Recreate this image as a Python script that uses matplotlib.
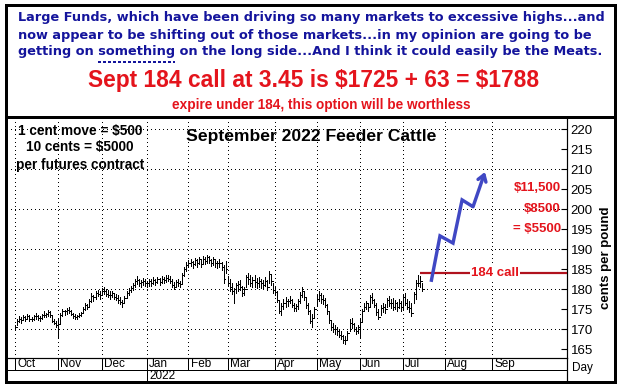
import numpy as np
import matplotlib
matplotlib.use("Agg")
import matplotlib.pyplot as plt
from matplotlib.patches import Rectangle
from matplotlib.lines import Line2D

# ---------------- data ----------------
months = ["Oct", "Nov", "Dec", "Jan", "Feb", "Mar", "Apr", "May", "Jun", "Jul", "Aug", "Sep"]
month_start = [0, 21, 42, 64, 84, 103, 126, 146, 167, 188, 208, 231]   # trading-day index

highs = [
    171.0,172.5,173.3,173.0,173.5,173.2,173.8,173.4,173.0,173.6,173.9,173.5,173.2,173.8,174.5,174.0,174.8,174.6,173.4,172.6,172.0,
    172.5,174.0,175.0,174.8,175.2,175.4,174.8,174.0,173.8,173.5,174.0,174.2,175.5,176.6,176.3,177.5,179.0,178.5,179.6,179.8,179.4,
    180.2,180.4,180.0,179.8,179.4,179.6,179.0,178.8,178.4,178.0,177.2,178.2,179.4,180.2,180.8,181.6,182.4,183.2,182.6,182.2,182.8,182.4,
    182.0,182.6,182.4,182.9,182.6,183.0,182.8,183.2,183.0,183.4,183.6,183.3,182.4,181.8,182.2,182.6,182.0,184.0,185.4,186.8,
    187.2,187.6,187.0,187.8,187.4,187.9,187.2,188.3,188.0,188.6,188.2,187.6,188.0,187.4,187.0,187.5,186.8,186.0,187.0,
    183.2,182.4,181.4,180.2,181.6,182.0,182.2,180.8,180.4,183.6,184.0,183.4,183.0,183.4,182.8,183.0,182.6,182.2,183.0,182.2,184.4,183.4,181.6,
    180.6,179.4,177.2,176.6,177.4,178.0,177.6,178.2,177.4,176.6,176.2,177.4,179.2,180.6,179.6,178.0,176.4,174.8,173.8,175.6,
    178.6,179.6,179.0,178.6,177.8,176.2,174.6,172.2,171.4,171.0,170.4,169.8,169.4,168.6,168.2,169.6,172.4,172.8,171.4,170.6,171.0,
    172.4,175.0,176.6,177.0,176.6,178.6,179.0,177.6,176.4,175.0,176.0,176.6,176.2,177.8,178.2,177.6,177.8,177.2,176.8,177.4,177.0,
    178.8,179.0,177.4,177.0,176.4,179.2,182.2,183.6,183.2,181.4,
]
lows = [
    169.8,171.0,171.8,171.6,172.2,172.0,172.4,172.1,171.9,172.3,172.6,172.3,172.0,172.6,172.9,173.0,173.2,173.1,171.8,171.2,170.6,
    168.0,171.5,173.2,173.6,173.8,174.0,173.4,172.8,172.5,172.6,173.0,173.2,174.0,174.8,175.0,175.8,176.8,177.0,177.4,178.2,177.6,
    178.6,178.8,178.3,178.0,177.6,178.0,177.4,177.2,176.6,176.2,175.6,176.4,177.8,178.6,179.2,179.8,180.4,181.2,180.8,180.6,181.0,180.8,
    180.4,180.8,180.8,181.2,181.0,181.4,181.0,181.6,181.5,181.8,182.0,181.6,180.6,180.0,180.4,180.8,180.4,181.6,183.2,184.6,
    185.4,185.8,185.2,186.0,185.6,186.2,185.5,186.4,186.2,186.6,186.4,185.8,186.0,185.6,185.2,185.6,184.8,181.6,184.0,
    180.8,179.6,178.8,176.5,179.0,179.4,179.8,178.2,178.4,180.6,181.2,180.8,180.4,180.6,180.2,180.4,180.2,180.0,180.8,179.8,181.6,181.0,179.0,
    178.4,176.8,174.0,173.4,175.0,175.6,175.8,176.4,175.6,174.6,174.6,175.0,176.6,178.0,177.2,175.2,173.8,171.4,170.4,172.8,
    176.0,177.0,176.6,176.2,175.4,173.8,171.6,169.8,169.2,168.8,168.6,168.0,167.4,166.6,166.2,167.6,169.4,170.2,169.4,168.8,169.0,
    168.0,172.0,174.4,175.0,174.6,175.8,176.6,175.4,173.6,172.4,173.4,174.2,174.0,175.4,175.8,175.2,174.8,175.0,174.6,175.2,174.4,
    175.0,176.0,175.0,174.2,173.2,176.4,177.6,180.8,180.6,179.4,
]
closes = [
    170.4,172.0,172.5,172.2,173.0,172.5,173.2,172.6,172.4,173.2,173.2,172.8,172.8,173.4,173.4,173.8,174.2,173.4,172.0,171.6,171.0,
    171.2,173.6,174.4,174.4,174.8,174.4,173.8,173.2,173.0,173.3,173.6,174.0,175.0,176.0,175.6,177.0,178.2,178.0,179.0,178.8,178.4,
    179.6,179.6,178.8,178.6,178.4,179.0,178.0,177.8,177.2,176.8,176.6,177.8,179.0,179.8,180.2,181.0,182.0,182.2,181.4,181.8,182.0,181.6,
    181.4,182.0,181.6,182.2,181.8,182.4,181.8,182.6,182.2,182.8,182.6,182.0,181.0,180.6,181.8,181.6,181.2,183.6,185.0,186.0,
    186.4,186.8,186.2,187.2,186.4,187.4,186.2,187.6,187.0,188.0,187.2,186.6,187.4,186.4,186.4,186.4,185.4,182.6,185.0,
    181.4,180.4,179.6,180.0,181.0,181.2,180.6,179.0,180.0,183.0,182.4,181.6,182.2,181.8,181.6,182.0,181.4,181.0,182.0,180.6,183.8,182.0,179.8,
    179.2,177.2,174.6,175.8,176.6,177.0,177.0,177.2,176.0,175.2,175.8,177.0,178.6,179.4,178.0,176.0,174.4,172.0,172.8,175.0,
    177.4,178.6,177.6,177.2,176.0,174.4,172.2,170.4,170.0,170.0,169.4,168.6,168.2,167.2,167.2,169.0,171.6,171.2,170.0,169.6,170.6,
    171.8,174.6,175.4,176.4,175.4,178.0,177.2,176.0,174.2,173.0,175.2,175.6,175.0,177.2,176.6,176.4,175.6,176.4,175.6,176.6,175.4,
    178.0,176.6,175.6,175.2,174.0,178.8,181.6,181.6,182.0,180.0,
]

# projected path (trading-day index, cents/lb)
proj_x = [201.5, 205.8, 212.1, 216.5, 221.8, 227.6]
proj_y = [181.8, 193.3, 191.5, 202.3, 200.6, 209.3]

call_strike = 184
payoff_labels = ["$11,500", "$8500", "= $5500"]
payoff_levels = [205.3, 200.0, 195.0]

yticks = list(range(165, 221, 5))
ygrid = list(range(170, 221, 10))

# ---------------- figure ----------------
W, H = 622, 391
plt.rcParams['lines.scale_dashes'] = False
plt.rcParams['text.parse_math'] = False
fig = plt.figure(figsize=(W / 100, H / 100), dpi=100)
fig.patch.set_facecolor("white")

def fx(x):
    return x / W

def fy(y):
    return 1 - y / H

PX = 0.72  # points per pixel
BLUE = "#14149c"
RED = "#e4141c"
DARKRED = "#b0121e"
ARROW = "#4048c4"

ax = fig.add_axes([fx(7), fy(358), fx(567) - fx(7), fy(118) - fy(358)])
ax.set_xlim(-3.87, 267.3)
ax.set_ylim(162.75, 222.8)
ax.set_facecolor("white")

for s in ["top", "left"]:
    ax.spines[s].set_visible(False)
ax.spines["bottom"].set_linewidth(1.2 * PX)
ax.spines["right"].set_linewidth(1.2 * PX)

ax.set_xticks([])
ax.yaxis.tick_right()
ax.set_yticks(yticks)
ax.set_yticklabels([str(v) for v in yticks], family="Liberation Sans", fontsize=9.5)
ax.tick_params(axis="y", direction="in", length=4, width=0.8, pad=2.5, colors="black")

# dotted grid
dots = (0, (1.0 * PX, 3.0 * PX))
for g in ygrid:
    ax.axhline(g, color="black", lw=1.0 * PX, linestyle=dots, zorder=1, antialiased=False)
for m in month_start:
    ax.axvline(m, color="black", lw=1.0 * PX, linestyle=dots, zorder=1, antialiased=False)

# price bars
xs = np.arange(len(highs))
ax.vlines(xs, lows, highs, color="black", lw=1.0 * PX, zorder=3, antialiased=False)
ax.hlines(closes, xs, xs + 0.9, color="black", lw=1.0 * PX, zorder=3, antialiased=False)

# 184 call line
ax.plot([xs[-1] - 1.0, 267.3], [call_strike, call_strike], color=DARKRED, lw=2.2 * PX,
        zorder=4, solid_capstyle="butt")
ax.text(232.4, call_strike, "184 call", color=RED, fontsize=9.5, fontweight="bold",
        family="Liberation Sans", ha="center", va="center", zorder=5,
        bbox=dict(facecolor="white", edgecolor="none", pad=0.6))

# projection arrow
ax.plot(proj_x[:-1], proj_y[:-1], color=ARROW, lw=3.4 * PX, zorder=6,
        solid_joinstyle="miter", solid_capstyle="butt")
ax.annotate("", xy=(proj_x[-1], proj_y[-1]), xytext=(proj_x[-2], proj_y[-2]),
            arrowprops=dict(arrowstyle="->,head_length=0.45,head_width=0.3",
                            color=ARROW, lw=3.4 * PX, shrinkA=0, shrinkB=0),
            zorder=6)

# payoff labels
for lab, lv in zip(payoff_labels, payoff_levels):
    ax.text(264.4, lv, lab, color=RED, fontsize=9.5, fontweight="bold",
            family="Liberation Sans", ha="right", va="center", zorder=5)

# title and contract note
ax.text(0.543, 0.925, "September 2022 Feeder Cattle", transform=ax.transAxes,
        fontsize=12.6, fontweight="bold", family="Liberation Sans",
        ha="center", va="center", zorder=5)
notes = ["1 cent move = $500", "10 cents = $5000", "per futures contract"]
note_y = [131.5, 147.5, 164.5]
for t, y in zip(notes, note_y):
    fig.text(fx(80), fy(y), t, fontsize=9.8, fontweight="bold", family="Liberation Sans",
             ha="center", va="center", zorder=5)

# month row below plot
xt = ax.get_xaxis_transform()
row1 = -(370 - 358) / 240.0
row2 = -(382 - 358) / 240.0
for m, name in zip(month_start, months):
    ax.plot([m, m], [row1, 0], transform=xt, color="black", lw=1.0 * PX, clip_on=False,
            antialiased=False)
    ax.text(m + 1.0, row1 / 2 - 0.002, name, transform=xt, fontsize=8.5,
            family="Liberation Sans", ha="left", va="center", clip_on=False)
ax.plot([-3.87, 267.3], [row1, row1], transform=xt, color="black", lw=1.0 * PX, clip_on=False,
        antialiased=False)
ax.plot([month_start[3], month_start[3]], [row2, row1], transform=xt, color="black",
        lw=1.0 * PX, clip_on=False, antialiased=False)
ax.text(month_start[3] + 1.0, (row1 + row2) / 2, "2022", transform=xt, fontsize=8.5,
        family="Liberation Sans", ha="left", va="center", clip_on=False)
ax.plot([267.3, 267.3], [row2, 0], transform=xt, color="black", lw=1.2 * PX, clip_on=False)

fig.text(fx(572), fy(368), "Day", fontsize=8.5, family="Liberation Sans", ha="left", va="center")
fig.text(fx(606), fy(258), "cents per pound", fontsize=9.5, fontweight="bold",
         family="Liberation Sans", rotation=90, ha="center", va="center")

# frame
fig.add_artist(Rectangle((fx(5.5), fy(382)), fx(615) - fx(5.5), fy(5) - fy(382),
                         transform=fig.transFigure, fill=False, edgecolor="black",
                         lw=3.0 * PX, zorder=10))
fig.add_artist(Line2D([fx(5.5), fx(615)], [fy(116.5), fy(116.5)], transform=fig.transFigure,
                      color="black", lw=3.0 * PX, zorder=10))

# header text
hdr = ["Large Funds, which have been driving so many markets to excessive highs...and",
       "now appear to be shifting out of those markets...in my opinion are going to be",
       "getting on something on the long side...And I think it could easily be the Meats."]
hdr_y = [18, 35, 52]
hdr_font = dict(fontsize=9.3, fontweight="bold", family="DejaVu Sans", color=BLUE)
for t, y in zip(hdr, hdr_y):
    fig.text(fx(18), fy(y), t, ha="left", va="center", **hdr_font)

fig.text(fx(314), fy(81), "Sept 184 call at 3.45 is $1725 + 63 = $1788", color=RED,
         fontsize=16.4, fontweight="bold", family="Liberation Sans", ha="center", va="center")
fig.text(fx(321), fy(105), "expire under 184, this option will be worthless", color=RED,
         fontsize=9.8, fontweight="bold", family="Liberation Sans", ha="center", va="center")

# dashed underline below "something"
renderer = fig.canvas.get_renderer()
probe1 = fig.text(0, 0, "getting on something", **hdr_font)
probe2 = fig.text(0, 0, "something", **hdr_font)
w1 = probe1.get_window_extent(renderer).width
w2 = probe2.get_window_extent(renderer).width
probe1.remove()
probe2.remove()
x_end = 18 + w1
x_start = x_end - w2
fig.add_artist(Line2D([fx(x_start), fx(x_end)], [fy(61.5), fy(61.5)], transform=fig.transFigure,
                      color=BLUE, lw=2.0 * PX, linestyle=(0, (3 * PX, 2 * PX))))

fig.savefig("out.png", dpi=100, facecolor="white")
